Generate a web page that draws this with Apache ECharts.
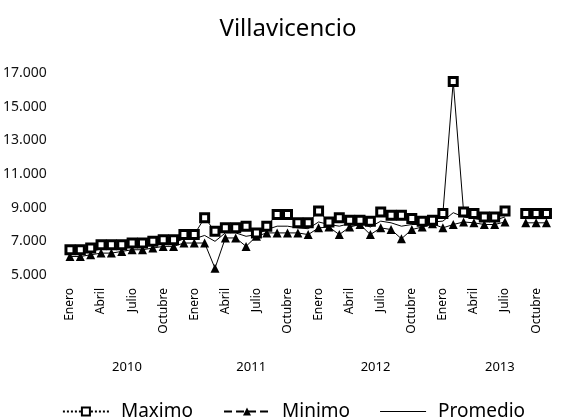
<!DOCTYPE html>
<html>
<head>
<meta charset="utf-8">
<script src="https://cdn.jsdelivr.net/npm/echarts@6/dist/echarts.min.js"></script>
<style>
  html, body { margin: 0; padding: 0; background: #fff; }
  #chart { width: 587px; height: 420px; }
</style>
</head>
<body>
<div id="chart"></div>
<script>
// meses y años del eje
const months = ["Enero", "Febrero", "Marzo", "Abril", "Mayo", "Junio", "Julio", "Agosto", "Septiembre", "Octubre", "Noviembre", "Diciembre"];
const years = ["2010", "2011", "2012", "2013"];

// valores (2010-2013, mensual)
const maximo = [
  6500, 6500, 6600, 6800, 6800, 6800, 6900, 6900, 7000, 7100, 7100, 7400,
  7400, 8400, 7600, 7800, 7800, 7900, 7500, 7900, 8600, 8600, 8100, 8100,
  8800, 8150, 8400, 8250, 8250, 8200, 8750, 8550, 8550, 8350, 8200, 8250,
  8650, 16500, 8750, 8650, 8450, 8450, 8800, null, 8650, 8650, 8650, null
];
const minimo = [
  6100, 6100, 6200, 6300, 6300, 6400, 6500, 6500, 6600, 6700, 6700, 6900,
  6900, 6900, 5400, 7200, 7200, 6700, 7300, 7500, 7500, 7500, 7500, 7400,
  7800, 7850, 7400, 7850, 8000, 7400, 7800, 7700, 7150, 7700, 7850, 8050,
  7800, 8000, 8150, 8100, 8000, 8000, 8150, null, 8100, 8100, 8100, null
];
const promedio = [
  6300, 6300, 6400, 6550, 6550, 6600, 6700, 6700, 6800, 6900, 6900, 7150,
  7150, 7350, 7000, 7500, 7500, 7300, 7400, 7700, 7900, 7900, 7800, 7750,
  8150, 8000, 7900, 8050, 8100, 7850, 8200, 8100, 7900, 8000, 8000, 8150,
  8200, 8700, 8450, 8350, 8250, 8250, 8450, null, 8350, 8350, 8350, null
];

const categories = [];
years.forEach(y => months.forEach(m => categories.push(m + " " + y)));

// eje de años: bordes de los meses, el año va al centro de sus 12 meses
const yearEdges = [];
for (let i = 0; i <= categories.length; i++) {
  yearEdges.push(i % 12 === 6 ? years[(i - 6) / 12] : "");
}

const font = "Noto Sans";
const chart = echarts.init(document.getElementById("chart"));

const option = {
  backgroundColor: "#fff",
  animation: false,
  title: {
    text: "Villavicencio",
    left: 283,
    top: 12,
    textAlign: "center",
    textStyle: { fontFamily: font, fontSize: 24, fontWeight: "normal", color: "#000" }
  },
  grid: { left: 63, right: 25, top: 73, bottom: 145 },
  xAxis: [
    {
      type: "category",
      data: categories,
      axisLine: { show: false },
      axisTick: { show: false },
      axisLabel: {
        interval: 2,
        rotate: 90,
        margin: 13,
        fontFamily: font,
        fontSize: 12,
        color: "#000",
        formatter: v => v.split(" ")[0]
      }
    },
    {
      type: "category",
      position: "bottom",
      offset: 78,
      boundaryGap: false,
      data: yearEdges,
      axisLine: { show: false },
      axisTick: { show: false },
      axisLabel: { interval: 0, margin: 8, fontFamily: font, fontSize: 13, color: "#000" }
    }
  ],
  yAxis: {
    type: "value",
    min: 5000,
    max: 17000,
    interval: 2000,
    axisLine: { show: false },
    axisTick: { show: false },
    splitLine: { show: false },
    axisLabel: {
      margin: 18,
      fontFamily: font,
      fontSize: 14,
      color: "#111",
      formatter: v => v / 1000 + ".000"
    }
  },
  legend: {
    top: 397,
    left: "center",
    itemWidth: 46,
    itemHeight: 10,
    itemGap: 30,
    textStyle: { fontFamily: font, fontSize: 19, color: "#000", padding: [0, 0, 0, 7] },
    data: [
      { name: "Maximo", lineStyle: { type: "dotted" } },
      { name: "Minimo", lineStyle: { type: "dashed" } },
      { name: "Promedio", icon: "path://M0,0h46v1.2h-46z" }
    ]
  },
  series: [
    {
      name: "Maximo",
      type: "line",
      data: maximo,
      symbol: "rect",
      symbolSize: 8,
      showAllSymbol: true,
      lineStyle: { color: "#000", width: 1 },
      itemStyle: { color: "#fff", borderColor: "#000", borderWidth: 3 },
      z: 4
    },
    {
      name: "Minimo",
      type: "line",
      data: minimo,
      symbol: "triangle",
      symbolSize: 9,
      showAllSymbol: true,
      lineStyle: { color: "#000", width: 1 },
      itemStyle: { color: "#000" },
      z: 3
    },
    {
      name: "Promedio",
      type: "line",
      data: promedio,
      symbol: "none",
      lineStyle: { color: "#000", width: 1 },
      itemStyle: { color: "#000" },
      z: 2
    }
  ]
};

chart.setOption(option);
</script>
</body>
</html>
